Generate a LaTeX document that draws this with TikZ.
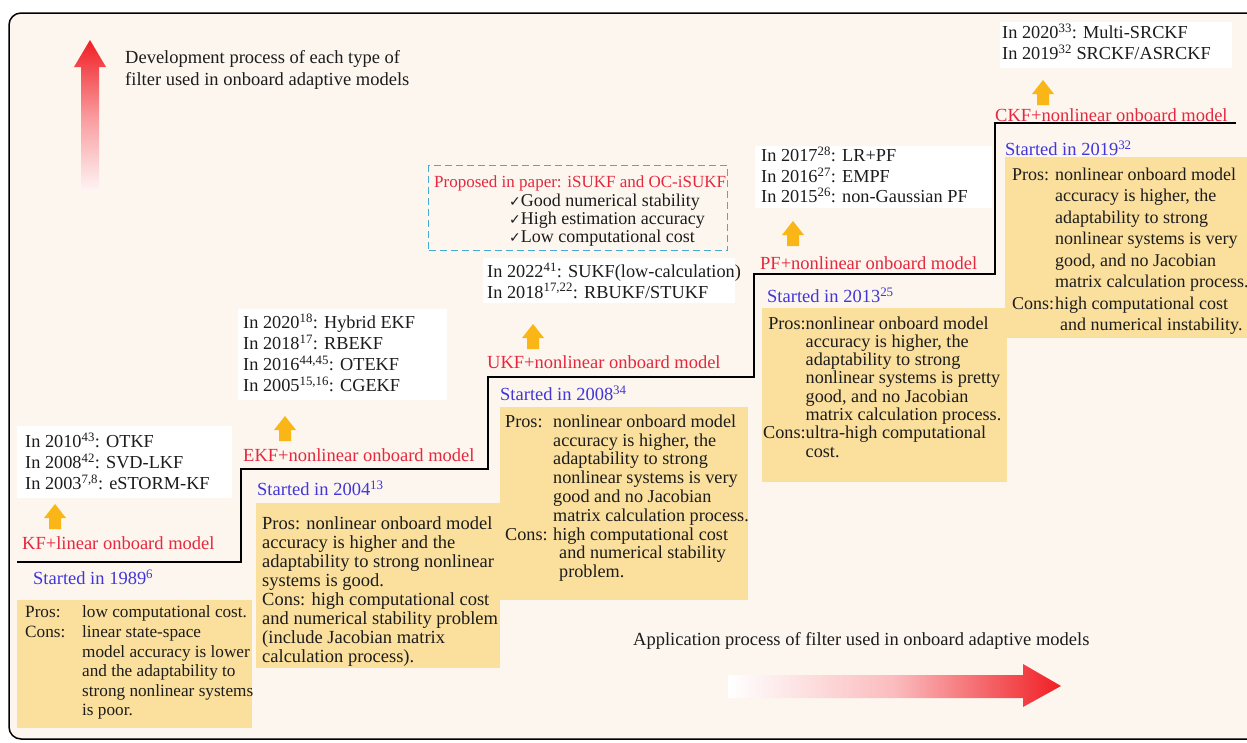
\documentclass[tikz,border=0pt]{standalone}
\usepackage{fontspec}
\setmainfont{Liberation Serif}
\newfontfamily\checkfont{DejaVu Sans}
\usepackage{array}
\usetikzlibrary{calc}

\definecolor{bgcream}{RGB}{252,246,239}
\definecolor{boxyellow}{RGB}{251,224,157}
\definecolor{labelred}{RGB}{228,40,62}
\definecolor{startblue}{RGB}{66,54,216}
\definecolor{arroworange}{RGB}{249,182,22}
\definecolor{dashcyan}{RGB}{70,172,212}
\definecolor{textdark}{RGB}{28,28,28}
\definecolor{arrowred}{RGB}{240,30,36}

% body text: size and line spacing per box
\newcommand\bodyfont[2]{\fontsize{#1}{#2}\selectfont}
\newcommand\headfont{\fontsize{18.5}{22}\selectfont}
\newcommand\ck{{\checkfont\fontsize{14}{14}\selectfont ✓}}

\begin{document}
\begin{tikzpicture}[x=1pt,y=-1pt,
  ybox/.style={fill=boxyellow,draw=none,inner sep=0,anchor=north west},
  wbox/.style={fill=white,draw=none,inner sep=0,anchor=north west},
  txt/.style={inner sep=0,anchor=north west,text=textdark},
  lbl/.style={inner sep=0,anchor=west,text=labelred,font=\headfont},
  startlbl/.style={inner sep=0,anchor=west,text=startblue,font=\headfont},
  stair/.style={line width=1.6pt,black},
  stairshadow/.style={line width=1.6pt,black!30},
  goldarrow/.pic={\fill[arroworange] (-6,0) -- (-6,-11) -- (-11,-11) -- (0,-25) -- (11,-11) -- (6,-11) -- (6,0) -- cycle;}
]
\useasboundingbox (0,0) rectangle (1247,742);
\fill[white] (0,0) rectangle (1247,742);
\draw[rounded corners=12pt,fill=bgcream,line width=1.5pt] (9,13) rectangle (1290,739);

% red gradient arrows
\shade[top color=arrowred,bottom color=arrowred!4,middle color=arrowred!45]
  (81,192) -- (81,67) -- (74,67) -- (90,40) -- (106,67) -- (99,67) -- (99,192) -- cycle;
\node[txt,font=\headfont,align=left] (devtext) at (125,50)
  {\fontsize{18.5}{25}\selectfont Development process of each type of\\filter used in onboard adaptive models};
\shade[left color=white,right color=arrowred,middle color=arrowred!30]
  (728,675) -- (1023,675) -- (1023,664) -- (1061,686) -- (1023,707) -- (1023,698) -- (728,698) -- cycle;
\node[inner sep=0,anchor=west,text=textdark,font=\headfont] (apptext) at (633,641)
  {Application process of filter used in onboard adaptive models};

% staircase
\coordinate (s0) at (17,562);
\coordinate (s1) at (241,562);
\coordinate (s2) at (241,469);
\coordinate (s3) at (488,469);
\coordinate (s4) at (488,377);
\coordinate (s5) at (754,377);
\coordinate (s6) at (754,274);
\coordinate (s7) at (995,274);
\coordinate (s8) at (995,123);
\coordinate (s9) at (1236,123);
\draw[stairshadow,shift={(1.5,1.5)}] (s0) -- (s1) -- (s2) -- (s3) -- (s4) -- (s5) -- (s6) -- (s7) -- (s8) -- (s9);
\draw[stair] (s0) -- (s1) -- (s2) -- (s3) -- (s4) -- (s5) -- (s6) -- (s7) -- (s8) -- (s9);

% ---------- KF ----------
\node[wbox,minimum width=215,minimum height=72] (kfnew) at (17,426) {};
\node[txt] (kfnewtext) at (25,433) {\bodyfont{18.3}{20.5}\begin{tabular}{@{}l@{}}
In 2010\textsuperscript{43}: OTKF\\
In 2008\textsuperscript{42}: SVD-LKF\\
In 2003\textsuperscript{7,8}: eSTORM-KF\end{tabular}};
\pic at (55,529) {goldarrow};
\node[lbl] (kflabel) at (22,543) {KF+linear onboard model};
\node[startlbl] (kfstart) at (33,577) {Started in 1989\textsuperscript{6}};
\node[ybox,minimum width=235,minimum height=128] (kfbox) at (17,600) {};
\node[txt] (kftext) at (25,604) {\bodyfont{17.2}{19.6}\begin{tabular}{@{}p{57pt}@{}l@{}}
Pros: & low computational cost.\\
Cons: & linear state-space\\
 & model accuracy is lower\\
 & and the adaptability to\\
 & strong nonlinear systems\\
 & is poor.\end{tabular}};

% ---------- EKF ----------
\node[wbox,minimum width=209,minimum height=91] (ekfnew) at (238,309) {};
\node[txt] (ekfnewtext) at (243,314) {\bodyfont{18.3}{20.3}\begin{tabular}{@{}l@{}}
In 2020\textsuperscript{18}: Hybrid EKF\\
In 2018\textsuperscript{17}: RBEKF\\
In 2016\textsuperscript{44,45}: OTEKF\\
In 2005\textsuperscript{15,16}: CGEKF\end{tabular}};
\pic at (285,441) {goldarrow};
\node[lbl] (ekflabel) at (243,455) {EKF+nonlinear onboard model};
\node[startlbl] (ekfstart) at (257,488) {Started in 2004\textsuperscript{13}};
\node[ybox,minimum width=244,minimum height=165] (ekfbox) at (256,503) {};
\node[txt] (ekftext) at (262,516) {\bodyfont{18.5}{19}\begin{tabular}{@{}l@{}}
Pros: nonlinear onboard model\\
accuracy is higher and the\\
adaptability to strong nonlinear\\
systems is good.\\
Cons: high computational cost\\
and numerical stability problem\\
(include Jacobian matrix\\
calculation process).\end{tabular}};

% ---------- UKF ----------
\node[draw=dashcyan,dash pattern=on 7pt off 4pt,line width=1.2pt,inner sep=0,
  minimum width=299,minimum height=85,anchor=north west] (paperbox) at (428,165) {};
\node[inner sep=0,anchor=west,text=labelred,font=\bodyfont{17}{20}] (papertitle) at (434,183)
  {Proposed in paper: iSUKF and OC-iSUKF};
\node[txt] (papertext) at (509,194) {\bodyfont{18}{17.5}\begin{tabular}{@{}l@{}}
\ck Good numerical stability\\
\ck High estimation accuracy\\
\ck Low computational cost\end{tabular}};
\node[wbox,minimum width=252,minimum height=45] (ukfnew) at (483,258) {};
\node[txt] (ukfnewtext) at (487,263) {\bodyfont{18.3}{18.5}\begin{tabular}{@{}l@{}}
In 2022\textsuperscript{41}: SUKF(low-calculation)\\
In 2018\textsuperscript{17,22}: RBUKF/STUKF\end{tabular}};
\pic at (533,349) {goldarrow};
\node[lbl] (ukflabel) at (487,362) {UKF+nonlinear onboard model};
\node[startlbl] (ukfstart) at (500,393) {Started in 2008\textsuperscript{34}};
\node[ybox,minimum width=248,minimum height=193] (ukfbox) at (500,407) {};
\node[txt] (ukftext) at (505,414) {\bodyfont{18.2}{18.8}\begin{tabular}{@{}p{48pt}@{}l@{}}
Pros: & nonlinear onboard model\\
 & accuracy is higher, the\\
 & adaptability to strong\\
 & nonlinear systems is very\\
 & good and no Jacobian\\
 & matrix calculation process.\\
Cons: & high computational cost\\
 & \hspace{6pt}and numerical stability\\
 & \hspace{6pt}problem.\end{tabular}};

% ---------- PF ----------
\node[wbox,minimum width=237,minimum height=62] (pfnew) at (755,146) {};
\node[txt] (pfnewtext) at (761,147) {\bodyfont{18.3}{18.5}\begin{tabular}{@{}l@{}}
In 2017\textsuperscript{28}: LR+PF\\
In 2016\textsuperscript{27}: EMPF\\
In 2015\textsuperscript{26}: non-Gaussian PF\end{tabular}};
\pic at (793,246) {goldarrow};
\node[lbl] (pflabel) at (760,263) {PF+nonlinear onboard model};
\node[startlbl] (pfstart) at (767,295) {Started in 2013\textsuperscript{25}};
\node[ybox,minimum width=245,minimum height=174] (pfbox) at (762,308) {};
\node[txt] (pftext) at (763,316) {\bodyfont{18.2}{18.3}\begin{tabular}{@{}r@{}l@{}}
Pros:& nonlinear onboard model\\
 & accuracy is higher, the\\
 & adaptability to strong\\
 & nonlinear systems is pretty\\
 & good, and no Jacobian\\
 & matrix calculation process.\\
Cons:& ultra-high computational\\
 & cost.\end{tabular}};

% ---------- CKF ----------
\node[wbox,minimum width=232,minimum height=46] (ckfnew) at (1000,22) {};
\node[txt] (ckfnewtext) at (1002,24) {\bodyfont{18.3}{19}\begin{tabular}{@{}l@{}}
In 2020\textsuperscript{33}: Multi-SRCKF\\
In 2019\textsuperscript{32} SRCKF/ASRCKF\end{tabular}};
\pic at (1043,105) {goldarrow};
\node[lbl] (ckflabel) at (995,115) {CKF+nonlinear onboard model};
\node[startlbl] (ckfstart) at (1005,148) {Started in 2019\textsuperscript{32}};
\node[ybox,minimum width=245,minimum height=181] (ckfbox) at (1005,157) {};
\node[txt] (ckftext) at (1012,165) {\bodyfont{18}{21.5}\begin{tabular}{@{}p{43pt}@{}l@{}}
Pros: & nonlinear onboard model\\
 & accuracy is higher, the\\
 & adaptability to strong\\
 & nonlinear systems is very\\
 & good, and no Jacobian\\
 & matrix calculation process.\\
Cons: & high computational cost\\
 & \hspace{5pt}and numerical instability.\end{tabular}};
\end{tikzpicture}
\end{document}
